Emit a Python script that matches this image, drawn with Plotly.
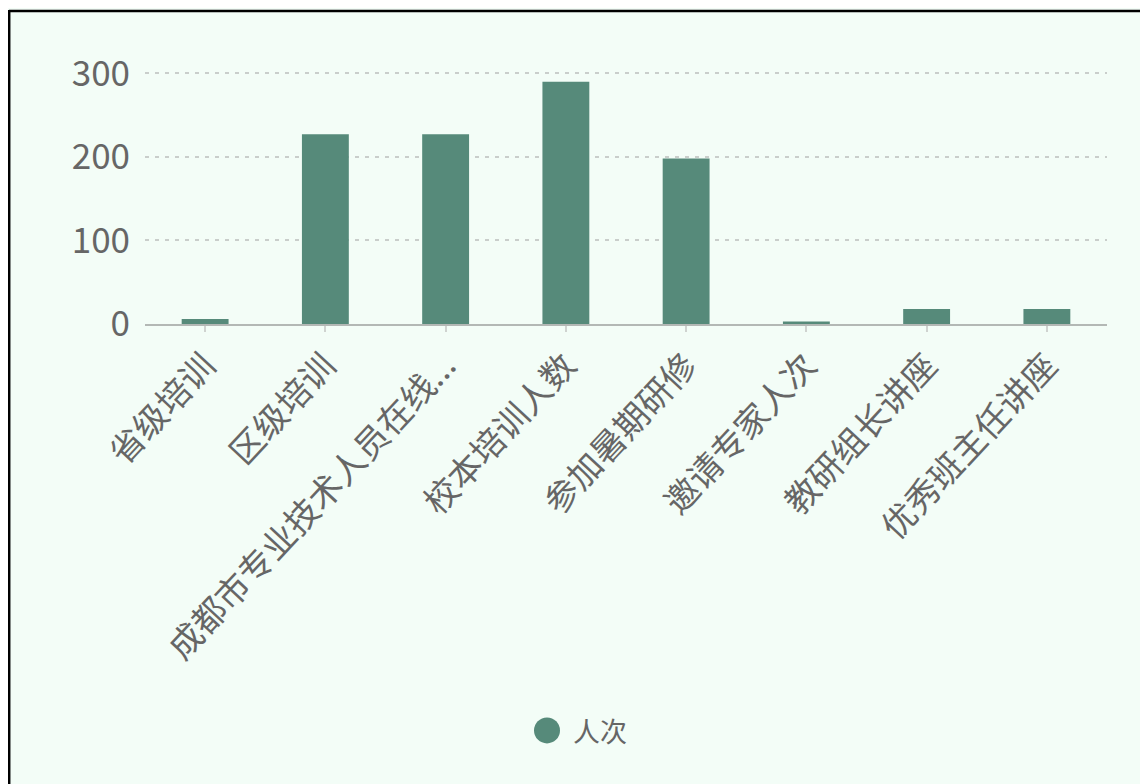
import plotly.graph_objects as go

categories = ["省级培训", "区级培训", "成都市专业技术人员在线...", "校本培训人数",
              "参加暑期研修", "邀请专家人次", "教研组长讲座", "优秀班主任讲座"]
values = [6, 227, 227, 290, 198, 3, 18, 18]
series_name = "人次"
y_ticks = [0, 100, 200, 300]

OFF = 8  # page body margin offset
W, H = 1148 - OFF, 784 - OFF
Y_TOP = 310
K = (324 - 73) / 300.0          # px per unit
PH = Y_TOP * K
MB = H - (324 - OFF)
MT = H - MB - PH
ML = 145 - OFF
MR = W - (1107 - OFF)
PW = W - ML - MR

def px(x):  # page pixel -> paper
    return (x - OFF - ML) / PW

def py(y):
    return (H - MB - (y - OFF)) / PH

BAR = "#568a7a"
BG = "#f3fdf7"
TXT = "#666666"
FONT = "Noto Sans CJK SC"

fig = go.Figure()
fig.add_trace(go.Bar(x=categories, y=values, name=series_name,
                     marker=dict(color=BAR, line=dict(width=0)),
                     showlegend=False))

shapes = [
    dict(type="line", xref="paper", yref="paper", x0=px(9), x1=px(1160), y0=py(10.5), y1=py(10.5),
         line=dict(color="black", width=2.5), layer="above"),
    dict(type="line", xref="paper", yref="paper", x0=px(9.2), x1=px(9.2), y0=py(9.5), y1=py(800),
         line=dict(color="black", width=2.5), layer="above"),
    dict(type="circle", xref="paper", yref="paper", x0=px(534), x1=px(560), y0=py(718), y1=py(744),
         fillcolor=BAR, line=dict(width=0), layer="above"),
]

annotations = [
    dict(text=series_name, xref="paper", yref="paper", x=px(571), y=py(731),
         xanchor="left", yanchor="middle", showarrow=False,
         font=dict(family=FONT, size=27, color=TXT)),
]

fig.update_layout(
    width=W, height=H,
    margin=dict(l=ML, r=MR, t=MT, b=MB, autoexpand=False),
    paper_bgcolor=BG, plot_bgcolor=BG,
    bargap=0.61,
    font=dict(family=FONT, color=TXT),
    shapes=shapes, annotations=annotations,
    showlegend=False,
)
fig.update_xaxes(
    type="category", showgrid=False, showline=True, linecolor="#b3b8b5", linewidth=2,
    ticks="outside", ticklen=6, tickwidth=1.5, tickcolor="#cfd3d0",
    tickangle=-47, tickfont=dict(family=FONT, size=34, color=TXT),
    zeroline=False,
)
fig.update_yaxes(
    range=[0, Y_TOP], tickvals=y_ticks, showgrid=True, gridcolor="#c9cecb",
    gridwidth=2, griddash="4px,6px", zeroline=False, showline=False, ticks="",
    tickfont=dict(family=FONT, size=35, color=TXT), ticklabelstandoff=14,
)

fig.write_html(
    "out.html",
    post_script="document.documentElement.style.overflow='hidden';document.body.style.overflow='hidden';",
)
